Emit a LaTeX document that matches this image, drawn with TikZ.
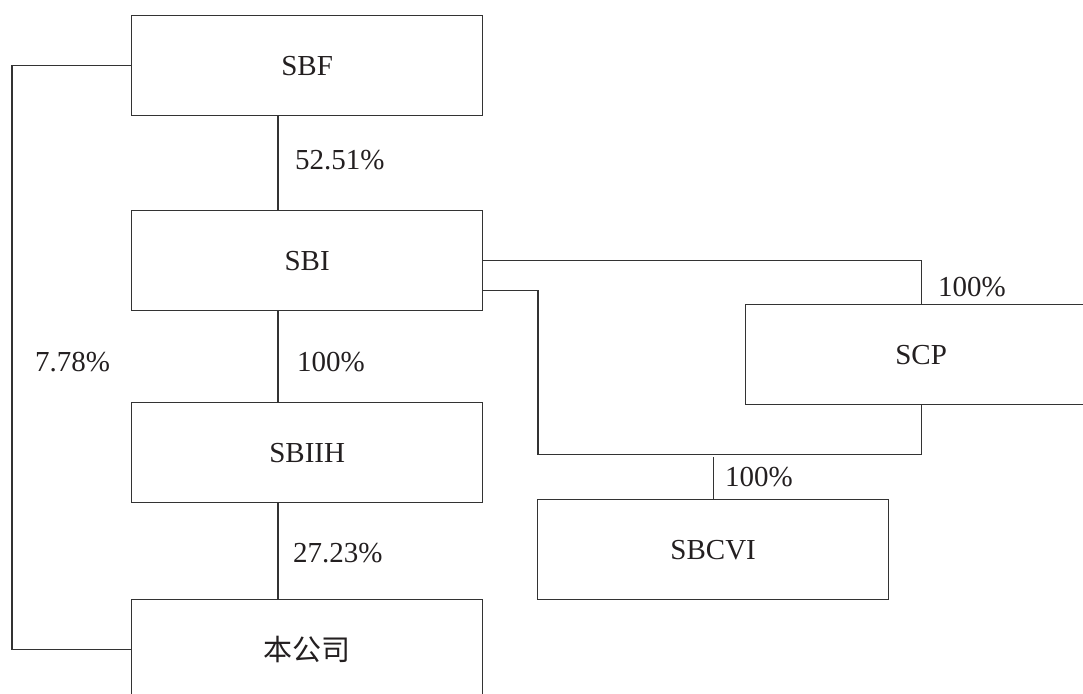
\documentclass[tikz,border=0pt]{standalone}
\usepackage{fontspec}
\setmainfont{Liberation Serif}
\newfontfamily\cjk{Noto Sans CJK SC}
\usetikzlibrary{calc}
\definecolor{ink}{HTML}{333333}
\definecolor{txt}{HTML}{231F20}
\tikzset{
  entity/.style={draw=ink, line width=1.3pt, minimum width=351pt, minimum height=100pt,
    inner sep=0pt, text=txt, font=\fontsize{29}{32}\selectfont, anchor=north west},
  link/.style={draw=ink, line width=1.3pt},
  pct/.style={anchor=west, inner sep=0pt, text=txt, font=\fontsize{29}{32}\selectfont}
}
\begin{document}
\begin{tikzpicture}[x=1pt, y=-1pt]
\useasboundingbox (0,0) rectangle (1083,693);
\clip (0,0) rectangle (1083,693);
\node[entity] (SBF)   at (131,15)  {SBF};
\node[entity] (SBI)   at (131,210) {SBI};
\node[entity] (SBIIH) at (131,402) {SBIIH};
\node[entity] (CO)    at (131,599) {\cjk 本公司};
\node[entity] (SCP)   at (745,304) {SCP};
\node[entity] (SBCVI) at (537,499) {SBCVI};
% vertical chain
\draw[link] ([xshift=147pt]SBF.south west) -- ([xshift=147pt]SBI.north west);
\draw[link] ([xshift=147pt]SBI.south west) -- ([xshift=147pt]SBIIH.north west);
\draw[link] ([xshift=147pt]SBIIH.south west) -- ([xshift=147pt]CO.north west);
% left loop
\draw[link] (SBF.west) -- ++(-119,0) |- (CO.west);
% SBI to SCP
\draw[link] (SBI.east) -| (SCP.north);
\coordinate (bend) at (538,454.5);
\draw[link] ([yshift=-30pt]SBI.east) -| (bend) -| (SCP.south);
\coordinate (top) at ($(SBCVI.north)+(0,-42)$);
\draw[link] (top) -- (SBCVI.north);
% labels
\node[pct] (l1) at (295,160) {52.51\%};
\node[pct] (l2) at (297,362) {100\%};
\node[pct] (l3) at (35,362) {7.78\%};
\node[pct] (l4) at (293,553) {27.23\%};
\node[pct] (l5) at (938,287) {100\%};
\node[pct] (l6) at (725,477) {100\%};
\end{tikzpicture}
\end{document}
